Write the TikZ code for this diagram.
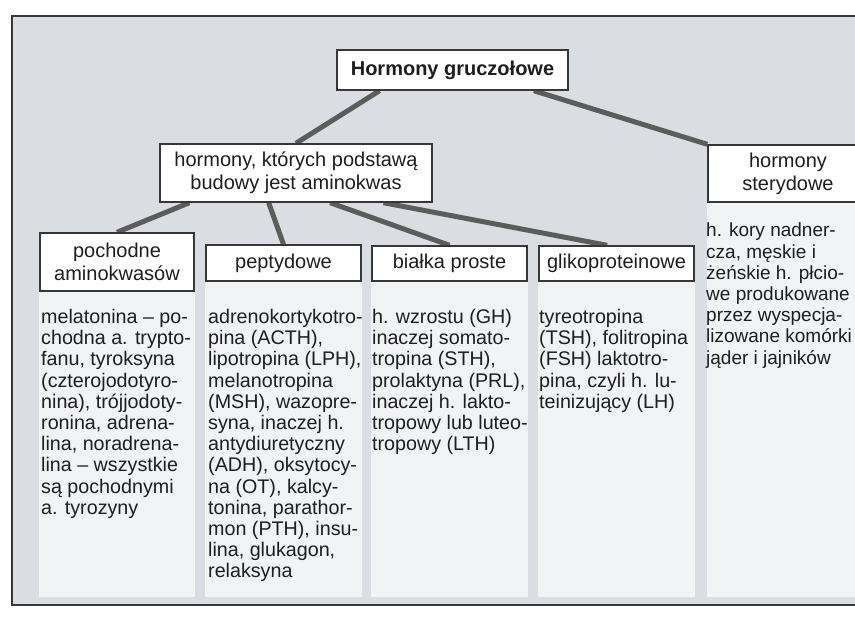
\documentclass[tikz,border=0pt]{standalone}
\usepackage{fontspec}
\setmainfont{Liberation Sans}
\usetikzlibrary{calc}
\pgfdeclarelayer{back}
\pgfdeclarelayer{mid}
\pgfsetlayers{back,mid,main}
\definecolor{paper}{RGB}{218,222,226}
\definecolor{panel}{RGB}{242,243,245}
\definecolor{ink}{RGB}{30,30,30}
\definecolor{rule}{RGB}{55,55,55}
\definecolor{link}{RGB}{92,92,92}

\begin{document}
\begin{tikzpicture}[x=1pt,y=-1pt,
  box/.style={draw=rule, line width=1.4pt, fill=white, inner sep=0pt,
    align=center, text=ink, font=\fontsize{20}{23}\selectfont},
  coltext/.style={anchor=north west, inner sep=0pt, align=left, text=ink,
    font=\fontsize{19.7}{21.2}\selectfont},
  conn/.style={draw=link, line width=5pt},
]
\useasboundingbox (0,0) rectangle (855,622);

% tree boxes
\node[box, minimum width=231pt, minimum height=40pt,
  font=\bfseries\fontsize{20}{23}\selectfont] (title) at (452.5,70) {Hormony gruczołowe};
\node[box, minimum width=272pt, minimum height=58pt] (amino) at (296,173)
  {hormony, których podstawą\\budowy jest aminokwas};
\node[box, minimum width=160pt, minimum height=57pt] (ster) at (788,173.5)
  {hormony\\sterydowe};
\node[box, minimum width=154pt, minimum height=58pt] (pochodne) at (117,262)
  {pochodne\\aminokwasów};
\node[box, minimum width=155pt, minimum height=36pt] (pept) at (283.5,263) {peptydowe};
\node[box, minimum width=155pt, minimum height=35pt] (bialka) at (449.5,263.5) {białka proste};
\node[box, minimum width=155pt, minimum height=35pt] (gliko) at (616.5,263.5) {glikoproteinowe};

% column texts
\node[coltext] (t1) at (41,309) {melatonina – po-\\chodna a. trypto-\\fanu, tyroksyna\\(czterojodotyro-\\nina), trójjodoty-\\ronina, adrena-\\lina, noradrena-\\lina – wszystkie\\są pochodnymi\\a. tyrozyny};
\node[coltext] (t2) at (208,309) {adrenokortykotro-\\pina (ACTH),\\lipotropina (LPH),\\melanotropina\\(MSH), wazopre-\\syna, inaczej h.\\antydiuretyczny\\(ADH), oksytocy-\\na (OT), kalcy-\\tonina, parathor-\\mon (PTH), insu-\\lina, glukagon,\\relaksyna};
\node[coltext] (t3) at (372,309) {h. wzrostu (GH)\\inaczej somato-\\tropina (STH),\\prolaktyna (PRL),\\inaczej h. lakto-\\tropowy lub luteo-\\tropowy (LTH)};
\node[coltext] (t4) at (539,309) {tyreotropina\\(TSH), folitropina\\(FSH) laktotro-\\pina, czyli h. lu-\\teinizujący (LH)};
\node[coltext, font=\fontsize{19}{21.2}\selectfont] (t5) at (706,223) {h. kory nadner-\\cza, męskie i\\żeńskie h. płcio-\\we produkowane\\przez wyspecja-\\lizowane komórki\\jąder i jajników};

\coordinate (floor) at (0,597);

% frame and light column panels
\begin{pgfonlayer}{back}
  \fill[paper] (12,16) rectangle (870,605);
  \draw[rule, line width=1.5pt] (870,16) -- (12,16) -- (12,605) -- (870,605);
  \fill[panel] (pochodne.north west) rectangle (pochodne.east |- floor);
  \fill[panel] (pept.north west) rectangle (pept.east |- floor);
  \fill[panel] (bialka.north west) rectangle (bialka.east |- floor);
  \fill[panel] (gliko.north west) rectangle (gliko.east |- floor);
  \fill[panel] (ster.north west) rectangle (ster.east |- floor);
\end{pgfonlayer}

% connectors
\begin{pgfonlayer}{mid}
  \draw[conn] ($(title.south west)!0.186!(title.south east)$) -- (amino.north);
  \draw[conn] ($(title.south west)!0.85!(title.south east)$) -- (ster.north west);
  \draw[conn] ($(amino.south west)!0.11!(amino.south east)$) -- (pochodne.north);
  \draw[conn] ($(amino.south west)!0.40!(amino.south east)$) -- (pept.north);
  \draw[conn] ($(amino.south west)!0.625!(amino.south east)$) -- (bialka.north);
  \draw[conn] ($(amino.south west)!0.82!(amino.south east)$) -- ($(gliko.north west)!0.44!(gliko.north east)$);
\end{pgfonlayer}
\end{tikzpicture}
\end{document}
